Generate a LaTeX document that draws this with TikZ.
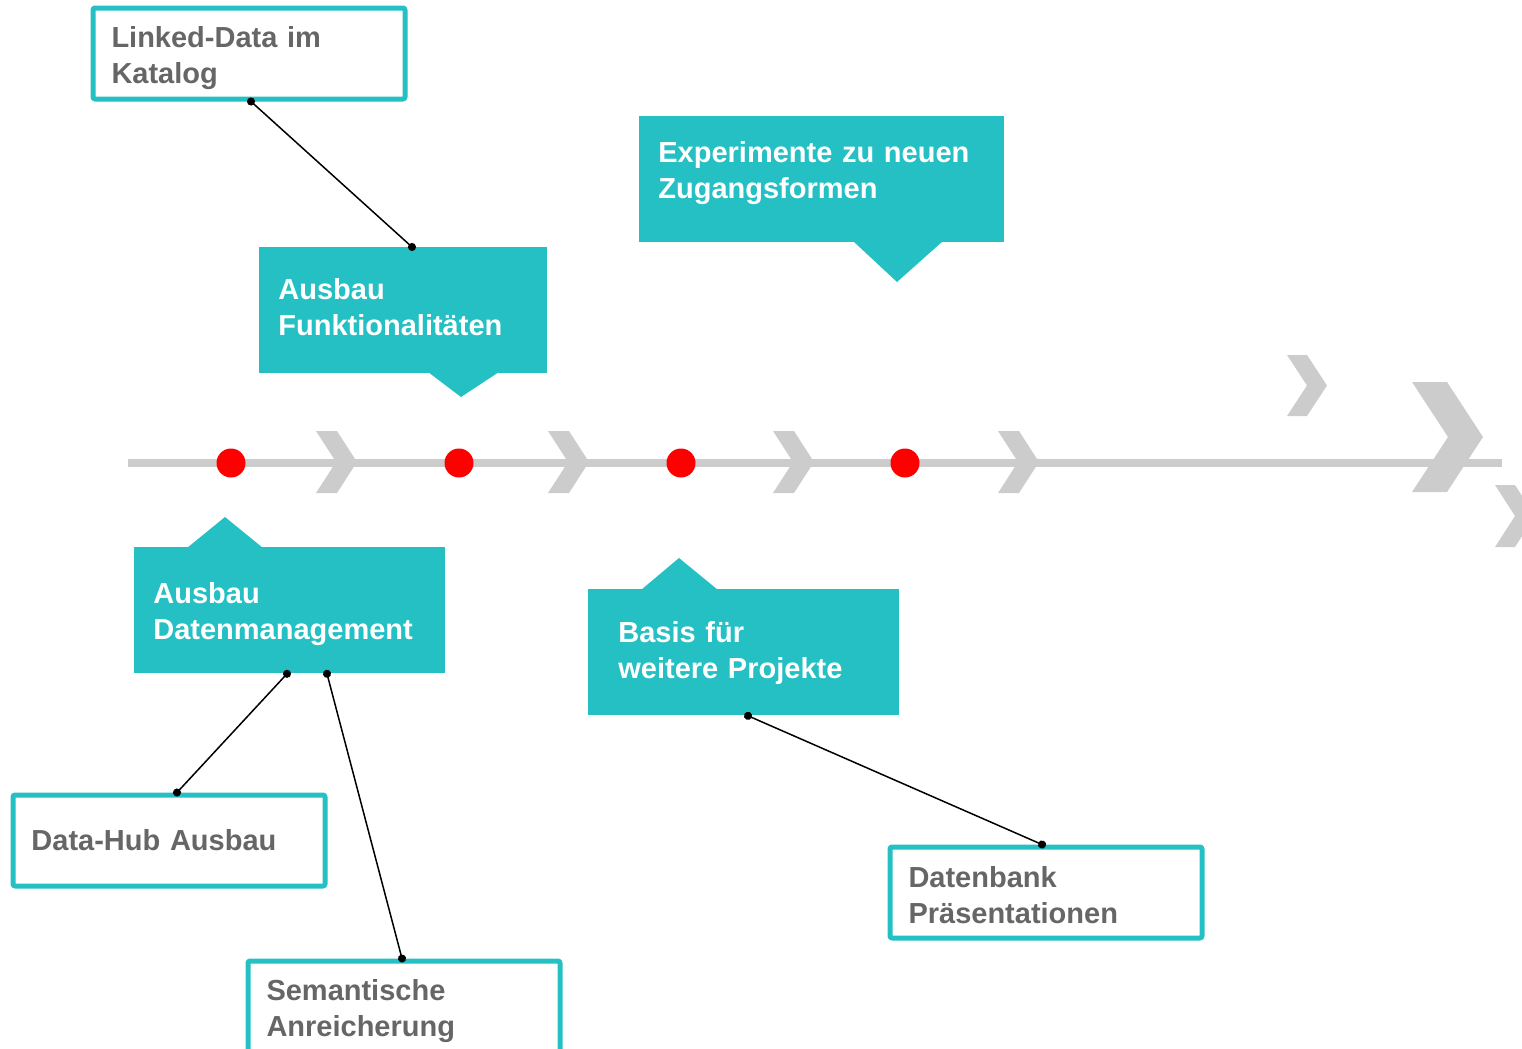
\documentclass[tikz,border=0pt]{standalone}
\usepackage{fontspec}
\setmainfont{Liberation Sans}
\usetikzlibrary{arrows.meta}
\definecolor{tealbox}{RGB}{36,192,196}
\definecolor{graytext}{RGB}{102,102,102}
\definecolor{chevgray}{RGB}{204,204,204}
\tikzset{
    boxfont/.style={font=\bfseries\fontsize{14.5}{18}\selectfont},
    callout/.style={boxfont, fill=tealbox, text=white, anchor=north west, align=left,
        inner xsep=9.5pt, inner ysep=0pt, minimum height=63pt},
    infobox/.style={boxfont, draw=tealbox, line width=2.5pt, rounded corners=1pt, text=graytext,
        anchor=north west, align=left, inner xsep=9.25pt, inner ysep=0pt,
        text width=137.5pt, minimum height=45.5pt},
    pinline/.style={line width=0.75pt, {Circle[length=4pt]}-{Circle[length=4pt]},
        shorten <=-2pt, shorten >=-2pt},
    milestone/.style={circle, fill=red, inner sep=0pt, minimum size=14.5pt},
}
\begin{document}
\begin{tikzpicture}[x=0.5pt, y=-0.5pt, line join=round]
    \clip (0,0) rectangle (1522,1049);
    % timeline
    \draw[chevgray, line width=4pt] (128,463) -- (1502,463);
    \foreach \cx in {316,548,773,998}
        \fill[chevgray] (\cx,431) -- ++(21,0) -- ++(20,31) -- ++(-20,31) -- ++(-21,0) -- ++(20,-31) -- cycle;
    \fill[chevgray] (1287,355) -- ++(20,0) -- ++(20,30.5) -- ++(-20,30.5) -- ++(-20,0) -- ++(20,-30.5) -- cycle;
    \fill[chevgray] (1412,382) -- ++(35,0) -- ++(36,55) -- ++(-36,55) -- ++(-35,0) -- ++(36,-55) -- cycle;
    \fill[chevgray] (1495,485) -- ++(20,0) -- ++(20,31) -- ++(-20,31) -- ++(-20,0) -- ++(20,-31) -- cycle;
    \foreach \mx [count=\i] in {231,459,681,905}
        \node[milestone] (m\i) at (\mx,463) {};

    % callouts
    \node[callout, text width=125pt, text depth=21pt] (ausfkt) at (259,247) {Ausbau\\Funktionalitäten};
    \fill[tealbox] (428,372) -- (461,397) -- (499,372) -- cycle;
    \node[callout, text width=163.5pt, text depth=27pt] (experi) at (639,116) {Experimente zu neuen\\Zugangsformen};
    \fill[tealbox] (853,241) -- (897,282) -- (943,241) -- cycle;
    \node[callout, text width=136.5pt, text depth=17pt] (ausdat) at (134,547) {Ausbau\\Datenmanagement};
    \fill[tealbox] (187,548) -- (225,517) -- (263,548) -- cycle;
    \node[callout, inner xsep=15pt, text width=125.5pt, text depth=20pt] (basis) at (588,589) {Basis für\\weitere Projekte};
    \fill[tealbox] (641,590) -- (679,558) -- (718,590) -- cycle;

    % detail boxes
    \node[infobox, text depth=17pt] (lnkdata) at (90.5,5.5) {Linked-Data im\\Katalog};
    \node[infobox] (datahub) at (10.5,792.5) {Data-Hub Ausbau};
    \node[infobox, text depth=17pt] (semant) at (245.5,958.5) {Semantische\\Anreicherung};
    \node[infobox, text depth=16pt] (datenbk) at (887.5,844.5) {Datenbank\\Präsentationen};

    \draw[pinline] (lnkdata.south -| 251,0) -- (ausfkt.north -| 412,0);
    \draw[pinline] (ausdat.south -| 287,0) -- (datahub.north -| 177,0);
    \draw[pinline] (ausdat.south -| 327,0) -- (semant.north -| 402,0);
    \draw[pinline] (basis.south -| 748,0) -- (datenbk.north -| 1042,0);
\end{tikzpicture}
\end{document}
